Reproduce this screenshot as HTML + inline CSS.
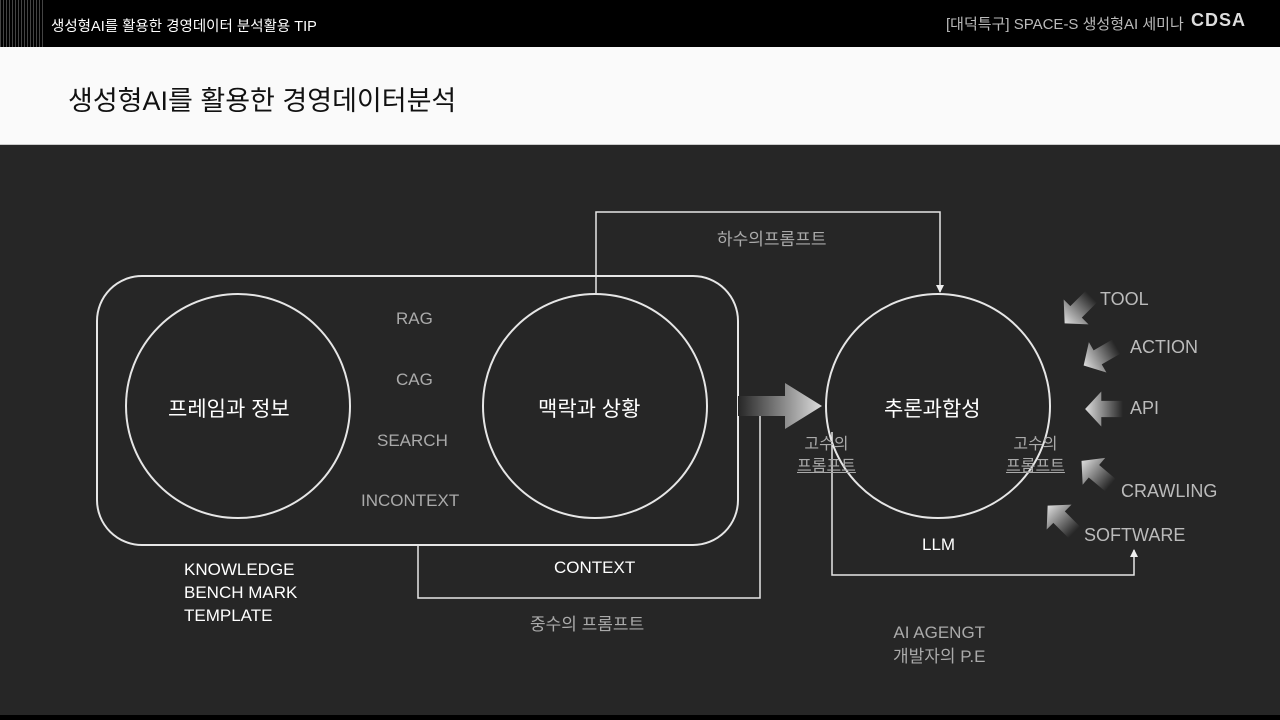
<!DOCTYPE html>
<html><head><meta charset="utf-8"><style>
body{margin:0;width:1280px;height:720px;overflow:hidden;background:#262626;font-family:"Liberation Sans","Noto Sans CJK KR",sans-serif;position:relative}
.hdr{position:absolute;left:0;top:0;width:1280px;height:47px;background:#000}
.band{position:absolute;left:0;top:47px;width:1280px;height:97px;background:#fafafa;border-bottom:1px solid #ccc}
.bot{position:absolute;left:0;top:715px;width:1280px;height:5px;background:#000}
.t{position:absolute;white-space:nowrap}
</style></head><body>
<div class="hdr"></div>
<div style="position:absolute;left:0;top:0;width:45px;height:47px;background:repeating-linear-gradient(90deg,#444 0 1px,#000 1px 3px)"></div>
<div class="t" style="left:51px;top:15px;color:#fff;font-size:14.5px">생성형AI를 활용한 경영데이터 분석활용 TIP</div>
<div class="t" style="left:946px;top:13px;color:#bbb;font-size:15px">[대덕특구] SPACE-S 생성형AI 세미나</div>
<div class="t" style="left:1191px;top:10px;color:#ddd;font-size:18px;font-weight:bold;letter-spacing:1px">CDSA</div>
<div class="band"></div>
<div class="t" style="left:68px;top:79px;color:#111;font-size:27px">생성형AI를 활용한 경영데이터분석</div>
<div class="bot"></div>
<svg width="1280" height="720" style="position:absolute;left:0;top:0">
<defs>
<linearGradient id="g" x1="0" x2="1"><stop offset="0" stop-color="#262626"/><stop offset="1" stop-color="#ddd"/></linearGradient>
<marker id="a" markerWidth="8" markerHeight="8" refX="7" refY="4" orient="auto" markerUnits="userSpaceOnUse"><path d="M0,0L8,4L0,8z" fill="#eee"/></marker>
</defs>
<g fill="none" stroke="#e6e6e6" stroke-width="2">
<rect x="97" y="276" width="641" height="269" rx="45"/>
<circle cx="238" cy="406" r="112"/>
<circle cx="595" cy="406" r="112"/>
<circle cx="938" cy="406" r="112"/>
</g>
<g fill="none" stroke="#e6e6e6" stroke-width="1.5">
<path d="M596,294V212H940V292" marker-end="url(#a)"/>
<path d="M418,545V598H760V406H819"/>
<path d="M832,432V575H1134V550" marker-end="url(#a)"/>
</g>
<path d="M738,396H785V383L822,406L785,429V416H738z" fill="url(#g)"/>
<g fill="url(#g)">
<path transform="translate(1078,310) rotate(135) scale(1.35)" d="M-14,-6H2V-13L14,0L2,13V6H-14z"/>
<path transform="translate(1100,356) rotate(150) scale(1.35)" d="M-14,-6H2V-13L14,0L2,13V6H-14z"/>
<path transform="translate(1104,409) rotate(180) scale(1.35)" d="M-14,-6H2V-13L14,0L2,13V6H-14z"/>
<path transform="translate(1096,473) rotate(-140) scale(1.35)" d="M-14,-6H2V-13L14,0L2,13V6H-14z"/>
<path transform="translate(1061,519) rotate(-135) scale(1.35)" d="M-14,-6H2V-13L14,0L2,13V6H-14z"/>
</g>
</svg>
<div class="t" style="left:168px;top:393px;color:#fff;font-size:21px">프레임과 정보</div>
<div class="t" style="left:538px;top:393px;color:#fff;font-size:21px">맥락과 상황</div>
<div class="t" style="left:884px;top:393px;color:#fff;font-size:21px">추론과합성</div>
<div class="t" style="left:396px;top:309px;color:#aaa;font-size:17px">RAG</div>
<div class="t" style="left:396px;top:370px;color:#aaa;font-size:17px">CAG</div>
<div class="t" style="left:377px;top:431px;color:#aaa;font-size:17px">SEARCH</div>
<div class="t" style="left:361px;top:491px;color:#aaa;font-size:17px">INCONTEXT</div>
<div class="t" style="left:717px;top:225px;color:#aaa;font-size:17px">하수의프롬프트</div>
<div class="t" style="left:184px;top:558px;color:#fff;font-size:17px;line-height:23px">KNOWLEDGE<br>BENCH MARK<br>TEMPLATE</div>
<div class="t" style="left:554px;top:558px;color:#fff;font-size:17px">CONTEXT</div>
<div class="t" style="left:530px;top:610px;color:#aaa;font-size:17px">중수의 프롬프트</div>
<div class="t" style="left:797px;top:434px;color:#aaa;font-size:16px;line-height:22px;text-align:center">고수의<br><u>프롬프트</u></div>
<div class="t" style="left:1006px;top:434px;color:#aaa;font-size:16px;line-height:22px;text-align:center">고수의<br><u>프롬프트</u></div>
<div class="t" style="left:922px;top:535px;color:#fff;font-size:17px">LLM</div>
<div class="t" style="left:893px;top:621px;color:#aaa;font-size:17px;line-height:24px;text-align:center">AI AGENGT<br>개발자의 P.E</div>
<div class="t" style="left:1100px;top:289px;color:#bbb;font-size:18px">TOOL</div>
<div class="t" style="left:1130px;top:337px;color:#bbb;font-size:18px">ACTION</div>
<div class="t" style="left:1130px;top:398px;color:#bbb;font-size:18px">API</div>
<div class="t" style="left:1121px;top:481px;color:#bbb;font-size:18px">CRAWLING</div>
<div class="t" style="left:1084px;top:525px;color:#bbb;font-size:18px">SOFTWARE</div>
</body></html>
